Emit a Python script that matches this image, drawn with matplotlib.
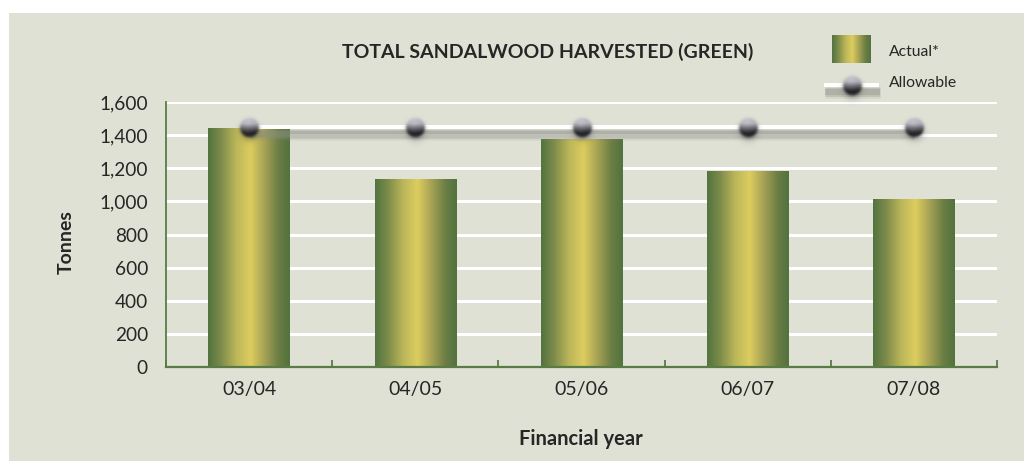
import numpy as np
import matplotlib
matplotlib.use("Agg")
import matplotlib.pyplot as plt
from matplotlib.colors import LinearSegmentedColormap
from matplotlib.patches import Rectangle
from matplotlib.lines import Line2D
from matplotlib.offsetbox import OffsetImage, AnnotationBbox
import matplotlib.patheffects as pe

# ---- data -------------------------------------------------------------
years = ["03/04", "04/05", "05/06", "06/07", "07/08"]
actual = [1443, 1130, 1372, 1178, 1009]
allowable = [1450, 1450, 1450, 1450, 1450]
y_ticks = [0, 200, 400, 600, 800, 1000, 1200, 1400, 1600]

title = "TOTAL SANDALWOOD HARVESTED (GREEN)"
x_label = "Financial year"
y_label = "Tonnes"
legend_labels = ["Actual*", "Allowable"]

# ---- style ------------------------------------------------------------
plt.rcParams["font.family"] = ["Lato", "DejaVu Sans"]
W, H = 1024, 461
panel = "#e0e1d5"
axis_green = "#5b7b46"
text_col = "#262626"

bar_cmap = LinearSegmentedColormap.from_list(
    "bar", [(0.0, "#53733f"), (0.15, "#7a8a4a"), (0.35, "#bdb75a"),
            (0.52, "#dccd5e"), (0.68, "#aaa556"), (0.86, "#6b7e44"),
            (1.0, "#52723e")])
grad = np.linspace(0, 1, 256)[None, :]


def _blur(img, sigma):
    k = np.arange(-int(3 * sigma) - 1, int(3 * sigma) + 2)
    g = np.exp(-k ** 2 / (2 * sigma ** 2))
    g /= g.sum()
    out = np.apply_along_axis(lambda m: np.convolve(m, g, mode="same"), 0, img)
    out = np.apply_along_axis(lambda m: np.convolve(m, g, mode="same"), 1, out)
    return out


def sphere_image(r=9.5, size=48):
    """Small RGBA image of a soft grey ball, light on top, dark below."""
    yy, xx = np.mgrid[0:size, 0:size].astype(float)
    cx, cy = size / 2, size / 2
    # dark soft halo under the ball
    d2 = (xx - cx) ** 2 + (yy - cy - 4.0) ** 2
    sh_a = 0.75 * np.exp(-d2 / (2 * 5.0 ** 2))
    sh_rgb = np.array([0.16, 0.16, 0.19])
    # ball: light cap at the top, dark lower half
    d = np.sqrt((xx - cx) ** 2 + (yy - cy) ** 2)
    ball_a = np.clip((r - d) / 1.5 + 0.5, 0, 1)
    t = np.clip((yy - (cy - r)) / (2 * r), 0, 1)
    shade = 0.76 - 0.62 * np.clip((t - 0.3) / 0.5, 0, 1) ** 0.9
    shade = shade - 0.08 * np.abs(xx - cx + 1.5) / r
    shade = np.clip(shade, 0.13, 0.8)
    ball_rgb = np.stack([shade, shade, shade * 1.04 + 0.01], axis=-1)
    out_a = ball_a + sh_a * (1 - ball_a)
    prem = (ball_rgb * ball_a[..., None]
            + sh_rgb * (sh_a * (1 - ball_a))[..., None])
    prem = np.dstack([prem, out_a])
    prem = _blur(prem, 1.2)
    a = np.clip(prem[..., 3], 0, 1)
    rgb = prem[..., :3] / np.maximum(a[..., None], 1e-6)
    return np.dstack([np.clip(rgb, 0, 1), a])


ball = sphere_image()

line_effects = [
    pe.SimpleLineShadow(offset=(0.4, -5.0), shadow_color="#8d8e84", alpha=0.12, linewidth=9),
    pe.SimpleLineShadow(offset=(0.4, -5.0), shadow_color="#8d8e84", alpha=0.25, linewidth=6.5),
    pe.SimpleLineShadow(offset=(0.4, -5.0), shadow_color="#8d8e84", alpha=0.35, linewidth=4.5),
    pe.Normal(),
]

fig = plt.figure(figsize=(W / 100, H / 100), dpi=100, facecolor="white")
fig.add_artist(Rectangle((9 / W, 0), 1 - 9 / W, 1 - 13 / H,
                         transform=fig.transFigure, facecolor=panel,
                         edgecolor="none", zorder=-10))

ax = fig.add_axes([166 / W, 1 - 367 / H, (997 - 166) / W, (367 - 102) / H])
ax.set_facecolor(panel)
ax.patch.set_alpha(0)

x = np.arange(len(years))
bar_w = 0.49

# gridlines
for t in y_ticks[1:]:
    ax.axhline(t, color="white", lw=2.2, zorder=1)

# gradient bars
for xi, v in zip(x, actual):
    ax.imshow(grad, cmap=bar_cmap, aspect="auto", interpolation="bilinear",
              extent=[xi - bar_w / 2, xi + bar_w / 2, 0, v], zorder=3)

# allowable line with ball markers
ax.plot(x, allowable, color="white", lw=2.9, zorder=4,
        solid_capstyle="butt", path_effects=line_effects)
for xi, v in zip(x, allowable):
    ab = AnnotationBbox(OffsetImage(ball, zoom=1, dpi_cor=False), (xi, v),
                        frameon=False, pad=0, box_alignment=(0.5, 0.5),
                        zorder=5)
    ax.add_artist(ab)

ax.set_xlim(-0.5, len(years) - 0.5)
ax.set_ylim(0, 1600)
ax.set_yticks(y_ticks)
ax.set_yticklabels([f"{t:,}" for t in y_ticks])
ax.set_xticks(x)
ax.set_xticklabels(years)
ax.set_xticks(np.arange(len(years) + 1) - 0.5, minor=True)
ax.tick_params(axis="x", which="major", length=0, pad=10,
               labelsize=14, labelcolor=text_col)
ax.tick_params(axis="x", which="minor", direction="in", length=5,
               width=1.3, color=axis_green)
ax.tick_params(axis="y", length=0, pad=13, labelsize=13.7,
               labelcolor=text_col)

for s in ["top", "right"]:
    ax.spines[s].set_visible(False)
ax.spines["left"].set_color(axis_green)
ax.spines["left"].set_linewidth(1.3)
ax.spines["bottom"].set_color(axis_green)
ax.spines["bottom"].set_linewidth(1.6)
ax.spines["left"].set_zorder(6)
ax.spines["bottom"].set_zorder(6)

# titles
fig.text(548 / W, 1 - 52 / H, title, ha="center", va="center",
         fontsize=14, fontweight="bold", color=text_col)
fig.text(581 / W, 1 - 439 / H, x_label, ha="center", va="center",
         fontsize=14.5, fontweight="bold", color=text_col)
fig.text(66 / W, 1 - 242 / H, y_label, ha="center", va="center",
         rotation=90, fontsize=14, fontweight="bold", color=text_col)

# legend: gradient swatch
lax = fig.add_axes([832 / W, 1 - 63 / H, 39 / W, 28 / H])
lax.imshow(grad, cmap=bar_cmap, aspect="auto", interpolation="bilinear")
lax.set_axis_off()
fig.text(889 / W, 1 - 52 / H, legend_labels[0], ha="left", va="center",
         fontsize=11.3, color=text_col)

# legend: line with ball
fig.add_artist(Line2D([824 / W, 879 / W], [1 - 85 / H, 1 - 85 / H],
                      transform=fig.transFigure, color="white", lw=2.9,
                      solid_capstyle="butt", path_effects=line_effects))
fig.add_artist(AnnotationBbox(OffsetImage(ball, zoom=1, dpi_cor=False),
                              (852 / W, 1 - 85 / H), xycoords="figure fraction",
                              frameon=False, pad=0, box_alignment=(0.5, 0.5)))
fig.text(889 / W, 1 - 83 / H, legend_labels[1], ha="left", va="center",
         fontsize=11.3, color=text_col)

fig.savefig("out.png", dpi=100, facecolor="white")
